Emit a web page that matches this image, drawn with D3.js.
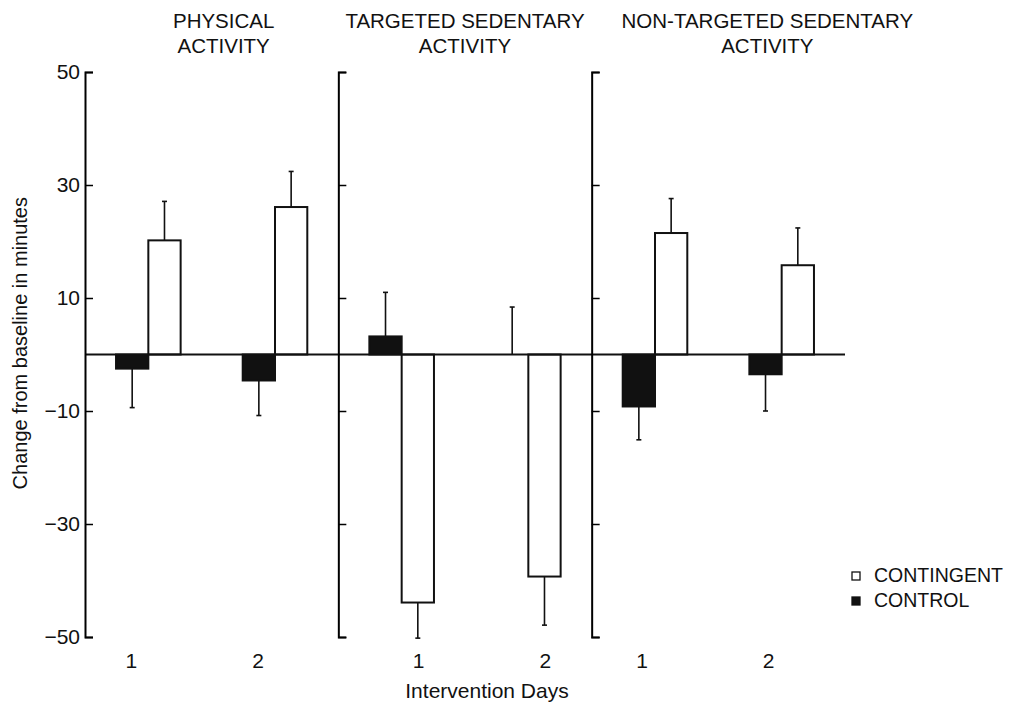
<!DOCTYPE html>
<html>
<head>
<meta charset="utf-8">
<script src="https://cdn.jsdelivr.net/npm/d3@7"></script>
<style>
body { margin: 0; background: #fff; }
text { font-family: "Liberation Sans", Arial, sans-serif; fill: #111; }
</style>
</head>
<body>
<script>
// data
var panels = ["PHYSICAL ACTIVITY", "TARGETED SEDENTARY ACTIVITY", "NON-TARGETED SEDENTARY ACTIVITY"];
var titleLines = [["PHYSICAL", "ACTIVITY"], ["TARGETED SEDENTARY", "ACTIVITY"], ["NON-TARGETED SEDENTARY", "ACTIVITY"]];
var days = ["1", "2"];
var groups = ["CONTROL", "CONTINGENT"];

// [day1, day2] per panel
var controlMean = [[-2.5, -4.6], [3.2, 0], [-9.2, -3.5]];
var controlErr  = [[-9.4, -10.8], [11.0, 8.4], [-15.1, -10.0]];
var contingentMean = [[20.2, 26.1], [-43.9, -39.3], [21.5, 15.8]];
var contingentErr  = [[27.1, 32.4], [-50.2, -47.9], [27.6, 22.4]];

var yTicks = [50, 30, 10, -10, -30, -50];

var width = 1012,
    height = 702;

var svg = d3.select("body").append("svg")
    .attr("width", width)
    .attr("height", height);

var y = d3.scaleLinear().domain([-50, 50]).range([637, 72]);

var xPanel = d3.scaleBand().domain(panels).range([85, 845]);

var xDay = d3.scaleBand().domain(days).range([0, xPanel.bandwidth()])
    .paddingInner(0.49).paddingOuter(0.245);

var xGroup = d3.scaleBand().domain(groups).range([0, xDay.bandwidth()]);

// small hand nudges so labels sit where the original put them
var titleShift = [12, 0, 49];
var dayShift = [-17, 17, -13];

var rows = [];
panels.forEach(function(p, i) {
  days.forEach(function(d, j) {
    rows.push({panel: p, pi: i, day: d, group: "CONTROL", v: controlMean[i][j], e: controlErr[i][j]});
    rows.push({panel: p, pi: i, day: d, group: "CONTINGENT", v: contingentMean[i][j], e: contingentErr[i][j]});
  });
});

function barX(d) { return xPanel(d.panel) + xDay(d.day) + xGroup(d.group); }

// error bars first so the bars sit on top
var err = svg.append("g").selectAll("g")
    .data(rows)
  .enter().append("g")
    .attr("transform", function(d) { return "translate(" + (barX(d) + xGroup.bandwidth() / 2) + ",0)"; });

err.append("line")
    .attr("y1", function(d) { return y(d.v); })
    .attr("y2", function(d) { return y(d.e); })
    .attr("stroke", "#111")
    .attr("stroke-width", 1.6);

err.append("line")
    .attr("x1", -2.5).attr("x2", 2.5)
    .attr("y1", function(d) { return y(d.e); })
    .attr("y2", function(d) { return y(d.e); })
    .attr("stroke", "#111")
    .attr("stroke-width", 1.6);

svg.append("g").selectAll("rect")
    .data(rows.filter(function(d) { return d.v != 0; }))
  .enter().append("rect")
    .attr("x", barX)
    .attr("width", xGroup.bandwidth())
    .attr("y", function(d) { return y(Math.max(0, d.v)); })
    .attr("height", function(d) { return Math.abs(y(d.v) - y(0)); })
    .attr("fill", function(d) { return d.group == "CONTROL" ? "#111" : "#fff"; })
    .attr("stroke", "#111")
    .attr("stroke-width", 2);

// zero line
svg.append("line")
    .attr("x1", xPanel.range()[0]).attr("x2", xPanel.range()[1])
    .attr("y1", y(0)).attr("y2", y(0))
    .attr("stroke", "#111")
    .attr("stroke-width", 2);

// one axis per panel, ticks pointing inward
panels.forEach(function(p, i) {
  var ax = d3.axisLeft(y)
      .tickValues(yTicks)
      .tickSizeInner(-8)
      .tickSizeOuter(-8)
      .tickPadding(5);
  if (i > 0) ax.tickFormat("");

  var g = svg.append("g")
      .attr("transform", "translate(" + xPanel(p) + ",0)")
      .call(ax);
  g.select(".domain").attr("stroke-width", 2);
  g.selectAll(".tick line").attr("stroke-width", 1.5);
  g.selectAll(".tick text")
      .style("font-family", "'Liberation Sans', Arial, sans-serif")
      .style("font-size", "21px")
      .attr("fill", "#111");

  var t = svg.append("text")
      .attr("x", xPanel(p) + xPanel.bandwidth() / 2 + titleShift[i])
      .attr("y", 28)
      .attr("text-anchor", "middle")
      .style("font-size", "20.5px");
  t.selectAll("tspan")
      .data(titleLines[i])
    .enter().append("tspan")
      .attr("x", xPanel(p) + xPanel.bandwidth() / 2 + titleShift[i])
      .attr("dy", function(d, k) { return k ? 25 : 0; })
      .text(function(d) { return d; });

  svg.append("g").selectAll("text")
      .data(days)
    .enter().append("text")
      .attr("x", function(d) { return xPanel(p) + xDay(d) + xDay.bandwidth() / 2 + dayShift[i]; })
      .attr("y", 668)
      .attr("text-anchor", "middle")
      .style("font-size", "21px")
      .text(function(d) { return d; });
});

svg.append("text")
    .attr("x", 487)
    .attr("y", 698)
    .attr("text-anchor", "middle")
    .style("font-size", "21px")
    .text("Intervention Days");

svg.append("text")
    .attr("transform", "translate(27," + y(2) + ") rotate(-90)")
    .attr("text-anchor", "middle")
    .style("font-size", "20px")
    .text("Change from baseline in minutes");

// legend
var legend = svg.append("g").selectAll("g")
    .data(groups.slice().reverse())
  .enter().append("g")
    .attr("transform", function(d, i) { return "translate(852," + (572 + i * 25) + ")"; });

legend.append("rect")
    .attr("width", 8).attr("height", 8)
    .attr("fill", function(d) { return d == "CONTROL" ? "#111" : "#fff"; })
    .attr("stroke", "#111")
    .attr("stroke-width", 1.3);

legend.append("text")
    .attr("x", 22)
    .attr("y", 10)
    .style("font-size", "19.5px")
    .text(function(d) { return d; });
</script>
</body>
</html>
